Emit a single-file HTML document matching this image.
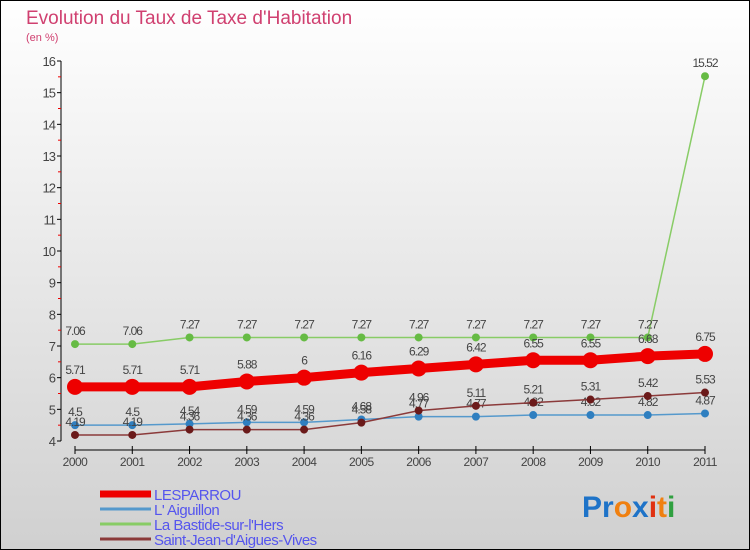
<!DOCTYPE html>
<html><head><meta charset="utf-8"><style>
body{margin:0}
#wrap{width:750px;height:550px;position:relative;overflow:hidden;background:linear-gradient(#ffffff,#d0d0d0);font-family:"Liberation Sans",sans-serif}
</style></head><body>
<div id="wrap">
<svg id="chart" width="750" height="550">
<rect x="0.5" y="0.5" width="749" height="549" fill="none" stroke="#000"/>
<text x="26" y="24" font-size="19" fill="#d04070">Evolution du Taux de Taxe d'Habitation</text>
<text x="26" y="41" font-size="11" fill="#d04070">(en %)</text>
<g id="axes"></g><g id="series"></g><g id="legend"></g>
<g font-size="30" font-weight="bold" font-family="Liberation Sans, sans-serif">
<text x="582" y="517"><tspan fill="#1e73c8">Pr</tspan><tspan fill="#f08010">o</tspan><tspan fill="#1e73c8">x</tspan><tspan fill="#e03010">i</tspan><tspan fill="#f08010">t</tspan><tspan fill="#30a040">i</tspan></text>
</g>
</svg>
</div>
<script>
const years=[2000,2001,2002,2003,2004,2005,2006,2007,2008,2009,2010,2011];
const yTicks=[4,5,6,7,8,9,10,11,12,13,14,15,16];
const lesparrou=[5.71,5.71,5.71,5.88,6,6.16,6.29,6.42,6.55,6.55,6.68,6.75];
const aiguillon=[4.5,4.5,4.54,4.59,4.59,4.68,4.77,4.77,4.82,4.82,4.82,4.87];
const bastide=[7.06,7.06,7.27,7.27,7.27,7.27,7.27,7.27,7.27,7.27,7.27,15.52];
const saintjean=[4.19,4.19,4.36,4.36,4.36,4.58,4.96,5.11,5.21,5.31,5.42,5.53];
const NS='http://www.w3.org/2000/svg';
const X=i=>75+i*(630/11);
const Y=v=>441-(v-4)*(380/12);
function mk(t,a,p){const e=document.createElementNS(NS,t);for(const k in a)e.setAttribute(k,a[k]);p.appendChild(e);return e;}
const ax=document.getElementById('axes');
let yl=mk('line',{x1:61,y1:Y(16),x2:61,y2:Y(4),stroke:'#000'},ax);


yTicks.forEach(v=>{
 mk('line',{x1:57,y1:Y(v),x2:61,y2:Y(v),stroke:'#000'},ax);
 if(v<16)mk('line',{x1:58,y1:Y(v+0.5),x2:61,y2:Y(v+0.5),stroke:'#e00'},ax);
 let t=mk('text',{x:55,y:Y(v)+5,'text-anchor':'end','font-size':13,fill:'#444','letter-spacing':'-1'},ax);
 t.textContent=v;
 
 
});
let xl=mk('line',{x1:X(0),y1:450,x2:X(11),y2:450,stroke:'#000'},ax);


years.forEach((y,i)=>{
 mk('line',{x1:X(i),y1:446,x2:X(i),y2:454,stroke:'#000'},ax);
 let t=mk('text',{x:X(i),y:466,'text-anchor':'middle','font-size':12,fill:'#444','letter-spacing':'-0.5'},ax);
 t.textContent=y;
 
 
});
const series=[
 {name:'lesparrou',label:'LESPARROU',d:lesparrou,c:'#ee0000',w:9,r:8,pc:'#ee0000'},
 {name:'aiguillon',label:"L' Aiguillon",d:aiguillon,c:'#5599cc',w:1.5,r:4,pc:'#2f7fc0'},
 {name:'bastide',label:"La Bastide-sur-l'Hers",d:bastide,c:'#88cc66',w:1.5,r:4,pc:'#66bb44'},
 {name:'saint-jean',label:"Saint-Jean-d'Aigues-Vives",d:saintjean,c:'#8b3a3a',w:1.5,r:4,pc:'#6b1a1a'}];
const sg=document.getElementById('series');
const order=[2,1,3,0];
order.forEach(si=>{const s=series[si];
 const g=mk('g',{},sg);
 
 
 let pl=mk('polyline',{points:s.d.map((v,i)=>X(i)+','+Y(v)).join(' '),fill:'none',stroke:s.c,'stroke-width':s.w,'stroke-linejoin':'round'},g);
 
 
 s.d.forEach((v,i)=>{
  let c=mk('circle',{cx:X(i),cy:Y(v),r:s.r,fill:s.pc},g);
  
  
  let t=mk('text',{x:X(i),y:Y(v)-(s.r+5),'text-anchor':'middle','font-size':12,fill:'#444','letter-spacing':'-1'},g);
  t.textContent=v;
  
  
 });
});
const lg=document.getElementById('legend');
series.forEach((s,i)=>{
 const y=494+i*15;
 const g=mk('g',{},lg);
 
 
 mk('line',{x1:100,y1:y,x2:151,y2:y,stroke:s.c,'stroke-width':i==0?7:3},g);
 let t=mk('text',{x:154,y:y+6,'font-size':15,fill:'#5555ee','letter-spacing':'-0.5'},g);
 t.textContent=s.label;
});
</script>
</body></html>
